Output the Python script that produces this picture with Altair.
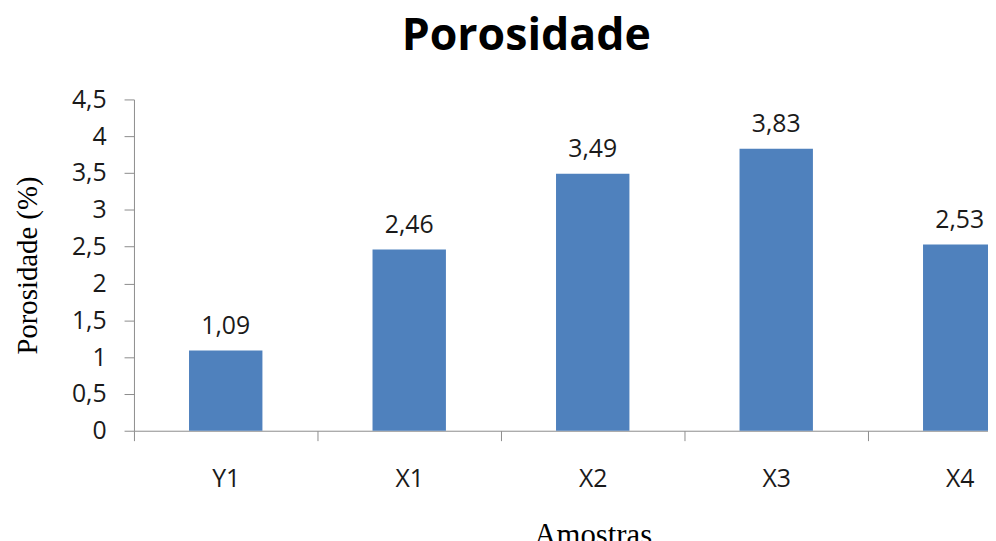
import altair as alt
import pandas as pd

amostras = ["Y1", "X1", "X2", "X3", "X4"]
porosidade = [1.09, 2.46, 3.49, 3.83, 2.53]
rotulos = ["1,09", "2,46", "3,49", "3,83", "2,53"]
y_ticks = [0, 0.5, 1, 1.5, 2, 2.5, 3, 3.5, 4, 4.5]

df = pd.DataFrame({"amostra": amostras, "porosidade": porosidade, "rotulo": rotulos})

label_font = "Open Sans"
serif = "Liberation Serif"
axis_gray = "#8c8c8c"

x = alt.X(
    "amostra:N",
    sort=amostras,
    scale=alt.Scale(range=[0, 925], paddingInner=0, paddingOuter=0),
    axis=alt.Axis(
        title="Amostras",
        titleFont=serif,
        titleFontSize=31,
        titleFontWeight="normal",
        titleColor="#000000",
        titlePadding=30,
        tickBand="extent",
        labelAngle=0,
        labelFont=label_font,
        labelFontSize=25,
        labelColor="#1a1a1a",
        labelPadding=26,
        tickSize=10,
        tickColor=axis_gray,
        domainColor=axis_gray,
        grid=False,
    ),
)

y = alt.Y(
    "porosidade:Q",
    scale=alt.Scale(domain=[0, 4.5], nice=False),
    axis=alt.Axis(
        title="Porosidade (%)",
        titleFont=serif,
        titleFontSize=29,
        titleFontWeight="normal",
        titleColor="#000000",
        titleAngle=-90,
        titleAlign="center",
        titleBaseline="middle",
        titleX=-107,
        titleY=167,
        values=y_ticks,
        labelExpr="replace(toString(datum.value), '.', ',')",
        labelOverlap=False,
        labelFont=label_font,
        labelFontSize=25,
        labelColor="#1a1a1a",
        labelPadding=18,
        tickSize=10,
        tickColor=axis_gray,
        domainColor=axis_gray,
        grid=False,
    ),
)

base = alt.Chart(df)

bars = base.mark_bar(width=alt.RelativeBandSize(0.4), color="#4F81BD").encode(x=x, y=y)

text = base.mark_text(
    baseline="alphabetic", align="center", dy=-17,
    font=label_font, fontSize=25, color="#1a1a1a",
).encode(x=x, y=y, text="rotulo:N")

chart = (
    alt.layer(bars, text)
    .properties(
        width=861,
        height=334,
        autosize=alt.AutoSizeParams(type="none"),
        padding={"left": 127, "top": 90, "right": 0, "bottom": 109},
        title=alt.TitleParams(
            text="Porosidade",
            font=label_font,
            fontSize=45,
            fontWeight="bold",
            color="#000000",
            anchor="middle",
            dx=-35,
            offset=29,
        ),
    )
    .configure_view(stroke="transparent")
)

chart.save("out.html", embed_options={"renderer": "svg", "actions": False})
